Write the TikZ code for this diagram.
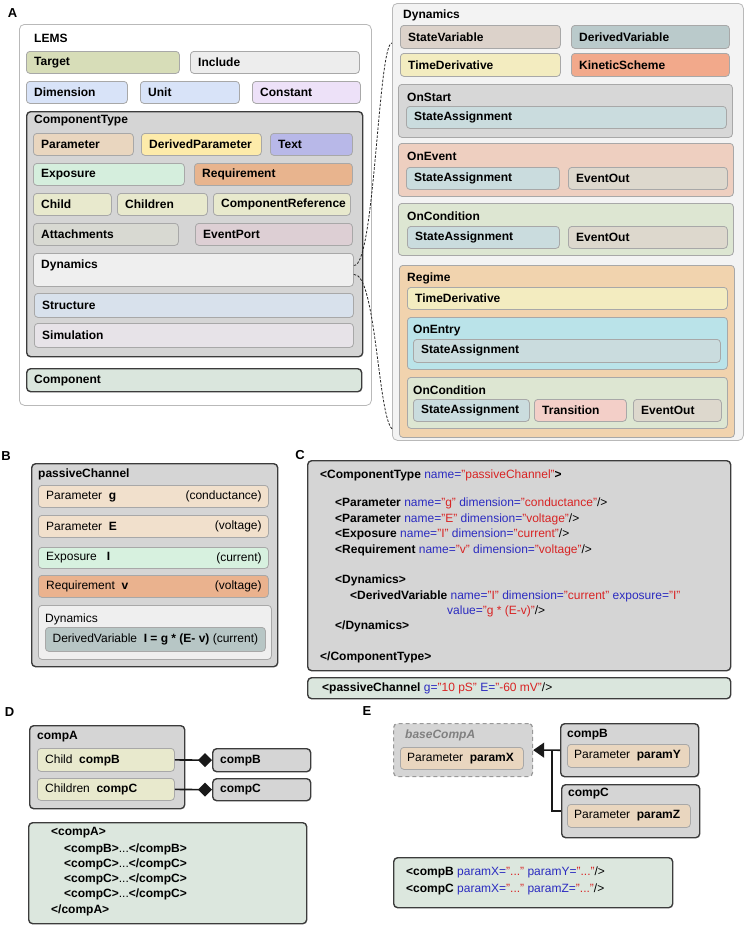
\documentclass[tikz,border=0pt]{standalone}
\usepackage{fontspec}
\setmainfont{Liberation Sans}
\usetikzlibrary{arrows.meta,calc}
\definecolor{cGray}{HTML}{D5D5D5}
\definecolor{cDynBg}{HTML}{EFEFEF}
\definecolor{cPanel}{HTML}{F3F3F3}
\definecolor{cTarget}{HTML}{D7DDB8}
\definecolor{cInclude}{HTML}{EDEDED}
\definecolor{cDim}{HTML}{D8E3F8}
\definecolor{cConst}{HTML}{EDE1F8}
\definecolor{cParam}{HTML}{E9D6BF}
\definecolor{cDParam}{HTML}{FDEBAA}
\definecolor{cText}{HTML}{B8B8E8}
\definecolor{cExpo}{HTML}{D5EEDD}
\definecolor{cReq}{HTML}{E8B48E}
\definecolor{cChild}{HTML}{E8E9CD}
\definecolor{cAttach}{HTML}{D8D9D2}
\definecolor{cEvPort}{HTML}{DDCFD4}
\definecolor{cStruct}{HTML}{D8E1EC}
\definecolor{cSim}{HTML}{E7E3E8}
\definecolor{cComp}{HTML}{DAE6DD}
\definecolor{cSV}{HTML}{DCD2CA}
\definecolor{cDV}{HTML}{BACACB}
\definecolor{cTD}{HTML}{F3ECC0}
\definecolor{cKS}{HTML}{F2A98B}
\definecolor{cOnStart}{HTML}{D7D7D7}
\definecolor{cSA}{HTML}{CADCDE}
\definecolor{cOnEvent}{HTML}{EECFC0}
\definecolor{cEO}{HTML}{DDD8CD}
\definecolor{cOnCond}{HTML}{DDE6D2}
\definecolor{cRegime}{HTML}{F1D3AE}
\definecolor{cOnEntry}{HTML}{BAE3E9}
\definecolor{cTrans}{HTML}{F3CFC8}
\definecolor{cParamB}{HTML}{F1E0CC}
\definecolor{cExpoB}{HTML}{D7F1DF}
\definecolor{cReqB}{HTML}{EAB28E}
\definecolor{cDVB}{HTML}{B7C6C5}
\definecolor{cCode}{HTML}{DCE7DE}
\definecolor{cBordL}{HTML}{A8A8A8}
\definecolor{cBordD}{HTML}{3C3C3C}
\definecolor{cAttr}{HTML}{2B2BC0}
\definecolor{cVal}{HTML}{D82424}
\newcommand\xa[1]{\textcolor{cAttr}{#1}}
\newcommand\xv[1]{\textcolor{cVal}{#1}}
% name, x1, y1, x2, y2, style, text
\newcommand\mkbox[7]{%
  \pgfmathsetmacro\bw{#4-#2}\pgfmathsetmacro\bh{#5-#3}%
  \node[#6,anchor=north west,minimum width=\bw pt,minimum height=\bh pt,inner sep=0pt] (#1) at (#2,#3) {};%
  \node[lbl,anchor=west] (#1-t) at ([xshift=8pt]#1.west) {#7};}
% name, x1, y1, x2, y2, style, title, dx, dy
\newcommand\mkcont[9]{%
  \pgfmathsetmacro\bw{#4-#2}\pgfmathsetmacro\bh{#5-#3}%
  \node[#6,anchor=north west,minimum width=\bw pt,minimum height=\bh pt,inner sep=0pt] (#1) at (#2,#3) {};%
  \node[lbl,anchor=west] (#1-t) at ([xshift=#8pt,yshift=-#9pt]#1.north west) {#7};}
\begin{document}
\begin{tikzpicture}[x=1pt,y=-1pt,
  lite/.style={draw=cBordL,line width=0.8pt,rounded corners=3.5pt},
  dark/.style={draw=cBordD,line width=1.4pt,rounded corners=4pt},
  outer/.style={draw=cBordL!80,line width=0.8pt,rounded corners=5pt},
  lbl/.style={font=\fontsize{12}{14}\selectfont\bfseries,inner sep=0pt},
  txt/.style={font=\fontsize{12}{14}\selectfont,inner sep=0pt},
  panel/.style={font=\fontsize{13}{15}\selectfont\bfseries,inner sep=0pt},
  zoomline/.style={draw=black!85,line width=0.8pt,dash pattern=on 2.5pt off 1.5pt},
  conn/.style={draw=black!90,line width=1.6pt}]
\useasboundingbox[fill=white] (0,0) rectangle (746,926);

% ---------- panel labels
\node[panel] (lA) at (12.5,13.5) {A};
\node[panel] (lB) at (6,456) {B};
\node[panel] (lC) at (300,455) {C};
\node[panel] (lD) at (9.5,712) {D};
\node[panel] (lE) at (367,711) {E};

% ---------- Panel A left
\mkcont{lems}{19}{24}{371}{405}{outer,fill=white}{LEMS}{15}{14}
\mkbox{target}{26}{51}{179}{73}{lite,fill=cTarget}{Target}
\mkbox{include}{190}{51}{359}{73}{lite,fill=cInclude}{Include}
\mkbox{dim}{26}{81}{127}{103}{lite,fill=cDim}{Dimension}
\mkbox{unit}{140}{81}{239}{103}{lite,fill=cDim}{Unit}
\mkbox{const}{252}{81}{360}{103}{lite,fill=cConst}{Constant}
\mkcont{ct}{26}{111}{362}{356}{dark,fill=cGray}{ComponentType}{8}{10}
\mkbox{param}{33}{133}{133}{155}{lite,fill=cParam}{Parameter}
\mkbox{dparam}{141}{133}{261}{155}{lite,fill=cDParam}{DerivedParameter}
\mkbox{text}{270}{133}{352}{155}{lite,fill=cText}{Text}
\mkbox{expo}{33}{163}{184}{185}{lite,fill=cExpo}{Exposure}
\mkbox{req}{194}{163}{352}{185}{lite,fill=cReq}{Requirement}
\mkbox{child}{33}{193}{111}{215}{lite,fill=cChild}{Child}
\mkbox{children}{117}{193}{207}{215}{lite,fill=cChild}{Children}
\mkbox{compref}{213}{193}{350}{215}{lite,fill=cChild}{ComponentReference}
\mkbox{attach}{33}{223}{178}{245}{lite,fill=cAttach}{Attachments}
\mkbox{evport}{195}{223}{352}{245}{lite,fill=cEvPort}{EventPort}
\mkcont{cdyn}{33}{253}{353}{286}{lite,fill=cDynBg}{Dynamics}{8}{12}
\mkbox{struct}{34}{293}{353}{317}{lite,fill=cStruct}{Structure}
\mkbox{sim}{34}{323}{353}{347}{lite,fill=cSim}{Simulation}
\mkbox{comp}{26}{368}{361}{391}{dark,fill=cComp}{Component}

% ---------- Panel A right (Dynamics expanded)
\mkcont{dyn}{392}{3}{743}{440}{outer,fill=cPanel}{Dynamics}{11}{12}
\mkbox{sv}{400}{25}{560}{48}{lite,fill=cSV}{StateVariable}
\mkbox{dv}{571}{25}{729}{48}{lite,fill=cDV}{DerivedVariable}
\mkbox{td}{400}{53}{560}{76}{lite,fill=cTD}{TimeDerivative}
\mkbox{ks}{571}{53}{729}{76}{lite,fill=cKS}{KineticScheme}
\mkcont{ons}{398}{84}{732}{137}{lite,fill=cOnStart}{OnStart}{9}{13}
\mkbox{onssa}{406}{106}{726}{128}{lite,fill=cSA}{StateAssignment}
\mkcont{one}{398}{143}{733}{196}{lite,fill=cOnEvent}{OnEvent}{9}{13}
\mkbox{onesa}{406}{167}{559}{189}{lite,fill=cSA}{StateAssignment}
\mkbox{oneeo}{568}{167}{727}{189}{lite,fill=cEO}{EventOut}
\mkcont{onc}{398}{203}{733}{255}{lite,fill=cOnCond}{OnCondition}{9}{13}
\mkbox{oncsa}{407}{226}{559}{248}{lite,fill=cSA}{StateAssignment}
\mkbox{onceo}{568}{226}{727}{248}{lite,fill=cEO}{EventOut}
\mkcont{reg}{399}{265}{734}{437}{lite,fill=cRegime}{Regime}{8}{13}
\mkbox{regtd}{407}{287}{727}{309}{lite,fill=cTD}{TimeDerivative}
\mkcont{ent}{407}{317}{727}{369}{lite,fill=cOnEntry}{OnEntry}{6}{14}
\mkbox{entsa}{413}{339}{720}{362}{lite,fill=cSA}{StateAssignment}
\mkcont{rc}{407}{377}{727}{428}{lite,fill=cOnCond}{OnCondition}{6}{13}
\mkbox{rcsa}{413}{399}{529}{421}{lite,fill=cSA}{StateAssignment}
\mkbox{rctr}{534}{399}{626}{421}{lite,fill=cTrans}{Transition}
\mkbox{rceo}{633}{399}{721}{421}{lite,fill=cEO}{EventOut}

% zoom connectors
\draw[zoomline] ([yshift=4.5pt]cdyn.east) .. controls +(21,3) and +(-14,0) .. ([yshift=-40pt]dyn.north west);
\draw[zoomline] ([yshift=-4.5pt]cdyn.east) .. controls +(22,-2) and +(-14,-13) .. ([yshift=12pt]dyn.south west);

% ---------- Panel B
\mkcont{pc}{31}{463}{277}{666}{dark,fill=cGray}{passiveChannel}{7}{11}
\node[lite,fill=cParamB,anchor=north west,minimum width=230pt,minimum height=22pt,inner sep=0pt] (bg) at (38,485) {};
\node[txt,anchor=west] (bg-l) at ([xshift=8pt]bg.west) {Parameter\ \ \textbf{g}};
\node[txt,anchor=east] (bg-r) at ([xshift=-7pt]bg.east) {(conductance)};
\node[lite,fill=cParamB,anchor=north west,minimum width=230pt,minimum height=22pt,inner sep=0pt] (bE) at (38,515) {};
\node[txt,anchor=west] (bE-l) at ([xshift=8pt]bE.west) {Parameter\ \ \textbf{E}};
\node[txt,anchor=east] (bE-r) at ([xshift=-7pt]bE.east) {(voltage)};
\node[lite,fill=cExpoB,anchor=north west,minimum width=230pt,minimum height=21pt,inner sep=0pt] (bI) at (38,547) {};
\node[txt,anchor=west] (bI-l) at ([xshift=8pt]bI.west) {Exposure\ \ \ \textbf{I}};
\node[txt,anchor=east] (bI-r) at ([xshift=-7pt]bI.east) {(current)};
\node[lite,fill=cReqB,anchor=north west,minimum width=230pt,minimum height=22pt,inner sep=0pt] (bv) at (38,575) {};
\node[txt,anchor=west] (bv-l) at ([xshift=8pt]bv.west) {Requirement\ \ \textbf{v}};
\node[txt,anchor=east] (bv-r) at ([xshift=-7pt]bv.east) {(voltage)};
\node[lite,fill=cDynBg,anchor=north west,minimum width=233pt,minimum height=54pt,inner sep=0pt] (bdyn) at (38,605) {};
\node[txt,anchor=west] (bdyn-t) at ([xshift=7pt,yshift=-14pt]bdyn.north west) {Dynamics};
\node[lite,fill=cDVB,anchor=north west,minimum width=220pt,minimum height=24pt,inner sep=0pt] (bdv) at (45,627) {};
\node[txt] (bdv-t) at (bdv.center) {DerivedVariable\ \ \textbf{I = g * (E- v)} (current)};

% ---------- Panel C
\node[dark,fill=cGray,anchor=north west,minimum width=423pt,minimum height=210pt,inner sep=0pt] (cxml) at (307,460) {};
\node[txt,anchor=west] (c1) at (320,475) {\textbf{<ComponentType} \xa{name=}\xv{"passiveChannel"}\textbf{>}};
\node[txt,anchor=west] (c2) at (335,503) {\textbf{<Parameter} \xa{name=}\xv{"g"} \xa{dimension=}\xv{"conductance"}/>};
\node[txt,anchor=west] (c3) at (335,519) {\textbf{<Parameter} \xa{name=}\xv{"E"} \xa{dimension=}\xv{"voltage"}/>};
\node[txt,anchor=west] (c4) at (335,534) {\textbf{<Exposure} \xa{name=}\xv{"I"} \xa{dimension=}\xv{"current"}/>};
\node[txt,anchor=west] (c5) at (335,550) {\textbf{<Requirement} \xa{name=}\xv{"v"} \xa{dimension=}\xv{"voltage"}/>};
\node[txt,anchor=west] (c6) at (335,580) {\textbf{<Dynamics>}};
\node[txt,anchor=west] (c7) at (350,596) {\textbf{<DerivedVariable} \xa{name=}\xv{"I"} \xa{dimension=}\xv{"current"} \xa{exposure=}\xv{"I"}};
\node[txt,anchor=west] (c8) at (447,611) {\xa{value=}\xv{"g * (E-v)"}/>};
\node[txt,anchor=west] (c9) at (335,626) {\textbf{</Dynamics>}};
\node[txt,anchor=west] (c10) at (320,657) {\textbf{</ComponentType>}};
\node[dark,fill=cComp,anchor=north west,minimum width=423pt,minimum height=21pt,inner sep=0pt] (cinst) at (307,677) {};
\node[txt,anchor=west] (cinst-t) at (322,688) {\textbf{<passiveChannel} \xa{g=}\xv{"10 pS"} \xa{E=}\xv{"-60 mV"}/>};

% ---------- Panel D
\mkcont{dA}{29}{725}{184}{808}{dark,fill=cGray}{compA}{8}{12}
\node[lite,fill=cChild,anchor=north west,minimum width=137pt,minimum height=23pt,inner sep=0pt] (dch) at (37,748) {};
\node[txt,anchor=west] (dch-t) at ([xshift=8pt]dch.west) {Child\ \ \textbf{compB}};
\node[lite,fill=cChild,anchor=north west,minimum width=137pt,minimum height=22pt,inner sep=0pt] (dchn) at (37,778) {};
\node[txt,anchor=west] (dchn-t) at ([xshift=8pt]dchn.west) {Children\ \ \textbf{compC}};
\mkbox{dB}{212}{748}{310}{771}{dark,fill=cGray}{compB}
\mkbox{dC}{212}{778}{310}{800}{dark,fill=cGray}{compC}
\draw[conn,-{Diamond[length=14pt,width=14pt]}] (dch.east) -- (dB.west);
\draw[conn,-{Diamond[length=14pt,width=14pt]}] (dchn.east) -- (dC.west);
\node[dark,fill=cCode,anchor=north west,minimum width=278pt,minimum height=101pt,inner sep=0pt] (dxml) at (28,822) {};
\node[txt,anchor=west] (d1) at (51,833) {\textbf{<compA>}};
\node[txt,anchor=west] (d2) at (64,849) {\textbf{<compB>}...\textbf{</compB>}};
\node[txt,anchor=west] (d3) at (64,864) {\textbf{<compC>}...\textbf{</compC>}};
\node[txt,anchor=west] (d4) at (64,879) {\textbf{<compC>}...\textbf{</compC>}};
\node[txt,anchor=west] (d5) at (64,894) {\textbf{<compC>}...\textbf{</compC>}};
\node[txt,anchor=west] (d6) at (51,910) {\textbf{</compA>}};

% ---------- Panel E
\node[draw=black!40,dash pattern=on 4pt off 3pt,line width=1.2pt,rounded corners=4pt,fill=cGray,anchor=north west,minimum width=139pt,minimum height=53pt,inner sep=0pt] (eA) at (393,723) {};
\node[lbl,anchor=west,text=black!50] (eA-t) at ([xshift=12pt,yshift=-12pt]eA.north west) {\itshape baseCompA};
\node[lite,fill=cParam,anchor=north west,minimum width=123pt,minimum height=22pt,inner sep=0pt] (eX) at (400,747) {};
\node[txt,anchor=west] (eX-t) at ([xshift=7pt]eX.west) {Parameter\ \ \textbf{paramX}};
\mkcont{eB}{560}{723}{698}{776}{dark,fill=cGray}{compB}{7}{12}
\node[lite,fill=cParam,anchor=north west,minimum width=122pt,minimum height=23pt,inner sep=0pt] (eY) at (567,744) {};
\node[txt,anchor=west] (eY-t) at ([xshift=7pt]eY.west) {Parameter\ \ \textbf{paramY}};
\mkcont{eC}{561}{784}{699}{837}{dark,fill=cGray}{compC}{7}{10}
\node[lite,fill=cParam,anchor=north west,minimum width=123pt,minimum height=23pt,inner sep=0pt] (eZ) at (567,804) {};
\node[txt,anchor=west] (eZ-t) at ([xshift=7pt]eZ.west) {Parameter\ \ \textbf{paramZ}};
\coordinate (ej) at ($(eB.west)!0.29!(eA.east)$);
\draw[conn,-{Triangle[length=11pt,width=15pt]}] (eB.west) -- (eA.east);
\draw[conn] (eC.west) -| (ej);
\node[dark,fill=cCode,anchor=north west,minimum width=279pt,minimum height=50pt,inner sep=0pt] (exml) at (393,857) {};
\node[txt,anchor=west] (e1) at (406,872) {\textbf{<compB} \xa{paramX=}\xv{"..."} \xa{paramY=}\xv{"..."}/>};
\node[txt,anchor=west] (e2) at (406,889) {\textbf{<compC} \xa{paramX=}\xv{"..."} \xa{paramZ=}\xv{"..."}/>};
\end{tikzpicture}
\end{document}
